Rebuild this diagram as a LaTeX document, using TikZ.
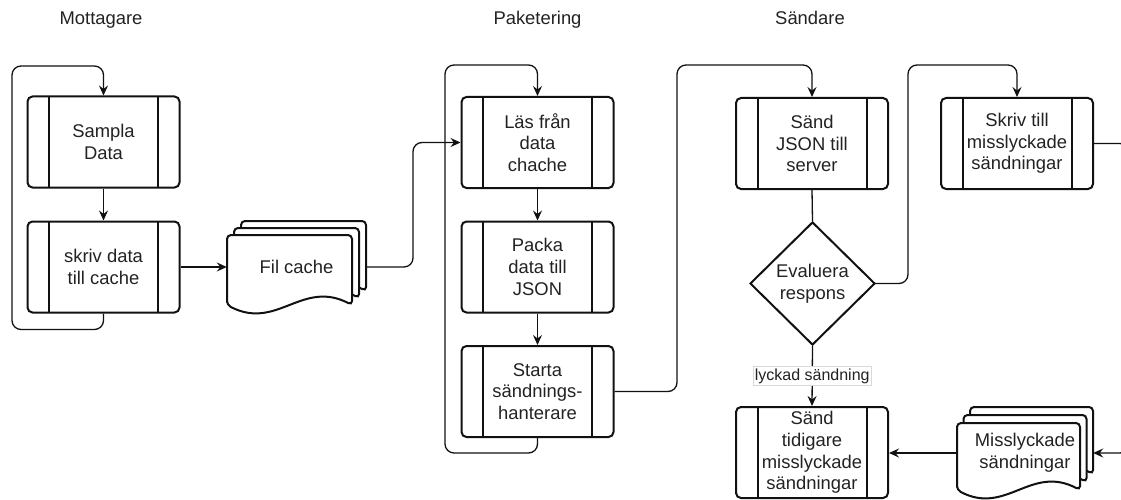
\documentclass[tikz,border=0pt]{standalone}
\usepackage{fontspec}
\setmainfont{Liberation Sans}
\usetikzlibrary{arrows.meta,shapes.geometric,calc}
\definecolor{ink}{HTML}{111111}
\definecolor{txt}{HTML}{222222}
\newcommand\mybody{\fontsize{18.4}{21.7}\selectfont}
\newcommand\mylabel{\fontsize{16}{19}\selectfont}
\tikzset{
  proc/.style={draw=ink, line width=2pt, rounded corners=5pt, minimum width=152pt,
    minimum height=91pt, inner sep=0pt, align=center, text=txt, font=\mybody,
    path picture={
      \draw[ink, line width=2pt] ([xshift=21.5pt]path picture bounding box.north west) -- ([xshift=21.5pt]path picture bounding box.south west);
      \draw[ink, line width=2pt] ([xshift=-21.5pt]path picture bounding box.north east) -- ([xshift=-21.5pt]path picture bounding box.south east);}},
  decision/.style={diamond, draw=ink, line width=2pt, minimum width=125pt,
    minimum height=123pt, inner sep=0pt, align=center, text=txt, font=\mybody},
  conn/.style={draw=ink, line width=1.3pt, rounded corners=9pt},
  arr/.style={conn, -{Stealth[length=10pt,width=9pt,inset=3.5pt]}},
  docline/.style={draw=ink, line width=2pt, fill=white, rounded corners=4pt},
  docnode/.style={inner sep=0pt, align=center, text=txt, font=\mybody},
  head/.style={text=txt, font=\mybody, anchor=base},
  lbl/.style={sharp corners, fill=white, draw=gray!30, line width=0.6pt, text=txt, font=\mylabel, inner sep=2pt}
}
% #1 node, #2 left, #3 right, #4 top, #5 bottom (offsets in px, y down)
\newcommand\docpage[5]{%
  \draw[docline] ($(#1.center)+(#2,#5)$) -- ($(#1.center)+(#2,#4)$) -- ($(#1.center)+(#3,#4)$) -- ($(#1.center)+(#3,#5)$)
    .. controls ($(#1.center)+({#3-0.4*((#3)-(#2))},{#5-26})$) and ($(#1.center)+({#2+0.4*((#3)-(#2))},{#5+26})$) .. cycle;}
\begin{document}
\begin{tikzpicture}[x=1pt,y=-1pt]
\useasboundingbox (0,0) rectangle (1121,500);

% headers
\node[head] (h1) at (101,25) {Mottagare};
\node[head] (h2) at (537.5,25) {Paketering};
\node[head] (h3) at (810,25) {Sändare};

% process boxes
\node[proc] (sampla) at (103.5,142) {Sampla\\Data};
\node[proc] (skriv) at (103.5,267) {skriv data\\till cache};
\node[proc] (laes) at (537.5,142.5) {Läs från\\data\\chache};
\node[proc] (packa) at (537.5,267) {Packa\\data till\\JSON};
\node[proc] (starta) at (537.5,391.5) {Starta\\sändnings-\\hanterare};
\node[proc] (saend) at (812,143.5) {Sänd\\JSON till\\server};
\node[proc] (skrivfail) at (1017,143.5) {Skriv till\\misslyckade\\sändningar};
\node[proc] (tidigare) at (812,452.5) {Sänd\\tidigare\\misslyckade\\sändningar};
\node[decision] (eval) at (812.5,283.5) {Evaluera\\respons};

% multi-document nodes
\node[docnode, minimum width=139pt] (fil) at (296.5,267) {};
\docpage{fil}{-55.5}{69.5}{-46}{24}
\docpage{fil}{-62.5}{62.5}{-39}{31}
\docpage{fil}{-69.5}{55.5}{-32}{38}
\node[docnode] (filtext) at (fil.center) {Fil cache};

\node[docnode, minimum width=136pt] (miss) at (1025,453) {};
\docpage{miss}{-55}{68}{-46}{21}
\docpage{miss}{-61.5}{61.5}{-38}{29}
\docpage{miss}{-68}{55}{-30}{37}
\node[docnode] (misstext) at (miss.center) {Misslyckade\\sändningar};

% connectors
\draw[arr] (sampla.south) -- (skriv.north);
\draw[arr] (skriv.south) -- ++(0,16) -| (12,66) -| (sampla.north);
\draw[arr] (skriv.east) -- (skriv.east -| fil.west);
\draw[arr] (fil.east) -| (413,142.5) -- (laes.west);
\draw[arr] (laes.south) -- (packa.north);
\draw[arr] (packa.south) -- (starta.north);
\draw[arr] (starta.south) -- ++(0,15) -| (445,65) -| (laes.north);
\draw[arr] (starta.east) -| (677,65) -| (saend.north);
\draw[conn] (saend.south) -- (eval.north);
\draw[arr] (eval.east) -| (908,65) -| (skrivfail.north);
\draw[arr] (eval.south) -- node[lbl] (lyckad) {lyckad sändning} (tidigare.north);
\draw[arr] (skrivfail.east) -- ++(35,0) |- (miss.east);
\draw[arr] (miss.west) -- (miss.west -| tidigare.east);
\end{tikzpicture}
\end{document}
